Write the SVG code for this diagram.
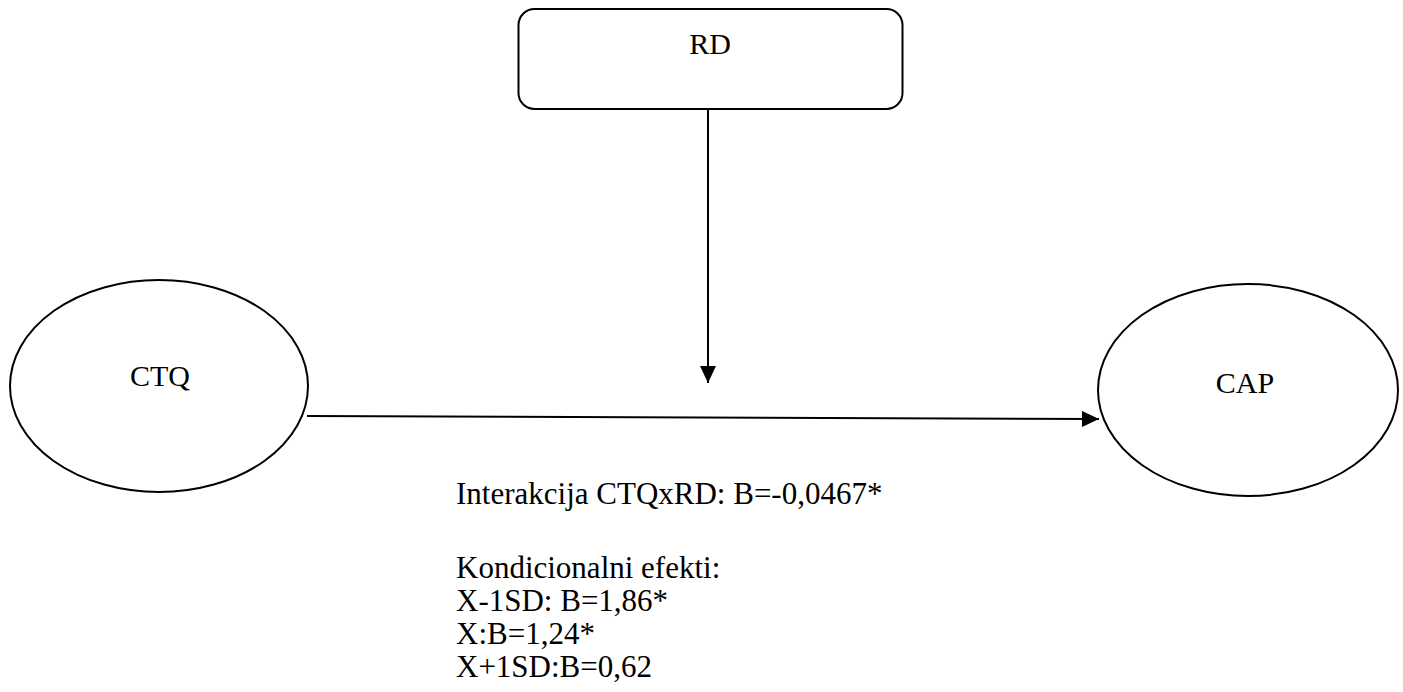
<svg xmlns="http://www.w3.org/2000/svg" width="1403" height="692" viewBox="0 0 1403 692">
<style>
.shape{fill:#fff;stroke:#000;stroke-width:2}
.t{font-family:"Liberation Serif","Times New Roman",serif;font-size:30px;fill:#000}
.b{font-size:31px}
.c{text-anchor:middle}
.line{stroke:#000;stroke-width:2;fill:none}
</style>
<defs>
<marker id="ah" markerUnits="userSpaceOnUse" markerWidth="17" markerHeight="16" refX="17" refY="8" orient="auto">
<path d="M0,0 L17,8 L0,16 Z" fill="#000"/>
</marker>
</defs>
<rect width="1403" height="692" fill="#fff"/>
<g id="connectors">
<line class="line" x1="708" y1="109" x2="708" y2="383" marker-end="url(#ah)"/>
<line class="line" x1="307" y1="416" x2="1099" y2="419" marker-end="url(#ah)"/>
</g>
<g id="node-RD">
<rect class="shape" x="518.5" y="9" width="384" height="100" rx="16" ry="16"/>
<text class="t c" x="710" y="54">RD</text>
</g>
<g id="node-CTQ">
<ellipse class="shape" cx="159" cy="386" rx="149" ry="106"/>
<text class="t c" x="160" y="386">CTQ</text>
</g>
<g id="node-CAP">
<ellipse class="shape" cx="1248" cy="390" rx="150" ry="106"/>
<text class="t c" x="1245" y="393">CAP</text>
</g>
<g id="labels">
<text class="t b" x="456" y="504">Interakcija CTQxRD: B=-0,0467*</text>
<text class="t b" x="456" y="578">Kondicionalni efekti:</text>
<text class="t b" x="456" y="611">X-1SD: B=1,86*</text>
<text class="t b" x="456" y="644">X:B=1,24*</text>
<text class="t b" x="456" y="677">X+1SD:B=0,62</text>
</g>
</svg>
